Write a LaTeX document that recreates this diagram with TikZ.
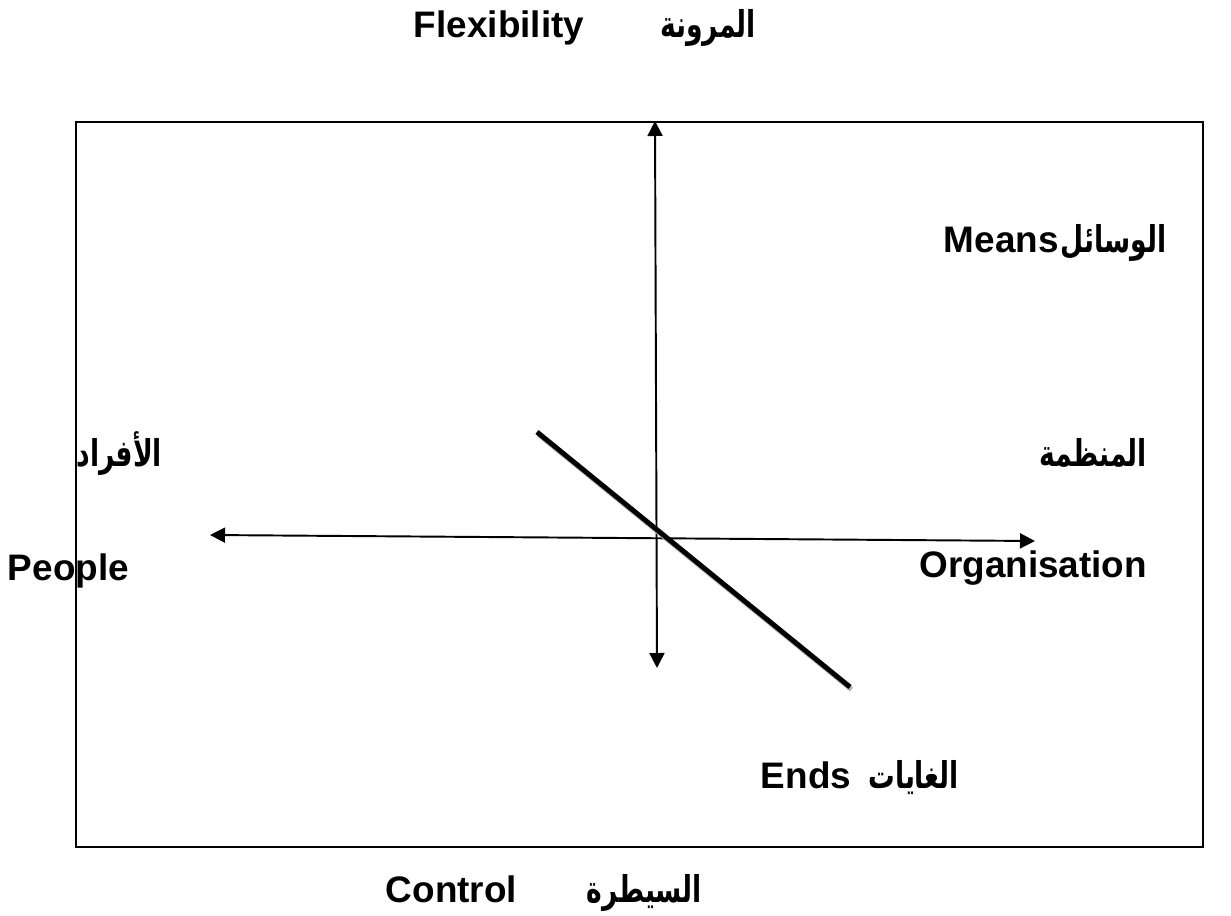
\documentclass[tikz,border=0pt]{standalone}
\usepackage{fontspec}
\setmainfont{Liberation Sans}
\newfontfamily\arabicfont[Script=Arabic,FakeStretch=0.72]{DejaVu Sans}
\TeXXeTstate=1
\usetikzlibrary{arrows.meta}
\tikzset{>={Triangle[length=3mm,width=3mm]}}
\tikzset{
  lbl/.style={font=\fontsize{21}{25}\selectfont\bfseries,inner sep=0},
  arlbl/.style={font=\fontsize{21}{25}\selectfont\arabicfont\bfseries,inner sep=0}
}

\begin{document}
\begin{tikzpicture}[x=0.02cm,y=-0.02cm,line width=1.1pt]
      \useasboundingbox (0,0) rectangle (1231,916);
      \node[draw,line width=1.1pt,minimum width=22.54cm,minimum height=14.5cm,anchor=north west](frame) at (75,121) {};

      \coordinate (top) at (655,121);
      \coordinate (bot) at (657,668);
      \coordinate (lft) at (210,535);
      \coordinate (rgt) at (1035,541);
      \draw[<->] (bot) -- (top);
      \draw[<->] (lft) -- (rgt);

      % thick line with its grey shadow
      \coordinate (a) at (537,432);
      \coordinate (b) at (850,687);
      \coordinate (as) at (538.5,434.5);
      \coordinate (bs) at (851.5,689.5);
      \draw[gray!60,line width=2.8pt] (as) -- (bs);
      \draw[line width=2.8pt] (a) -- (b);

      \node[lbl,anchor=base west](flex) at (413,37) {Flexibility};
      \node[arlbl,anchor=base east](flexar) at (757,37) {\beginR المرونة\endR};
      \node[lbl,anchor=base west](means) at (943,252) {Means};
      \node[arlbl,anchor=base west](meansar) at (means.base east) {\beginR الوسائل\endR};
      \node[arlbl,anchor=base east](orgar) at (1148,466) {\beginR المنظمة\endR};
      \node[lbl,anchor=base east](org) at (1148,577) {Organisation};
      \node[arlbl,anchor=base east](peoplear) at (163,466) {\beginR الأفراد\endR};
      \node[lbl,anchor=base west](people) at (7,580) {People};
      \node[lbl,anchor=base west](ends) at (760,788) {Ends};
      \node[arlbl,anchor=base east](endsar) at (960,788) {\beginR الغايات\endR};
      \node[lbl,anchor=base west](ctrl) at (385,902) {Control};
      \node[arlbl,anchor=base east](ctrlar) at (703,902) {\beginR السيطرة\endR};
    \end{tikzpicture}
\end{document}
